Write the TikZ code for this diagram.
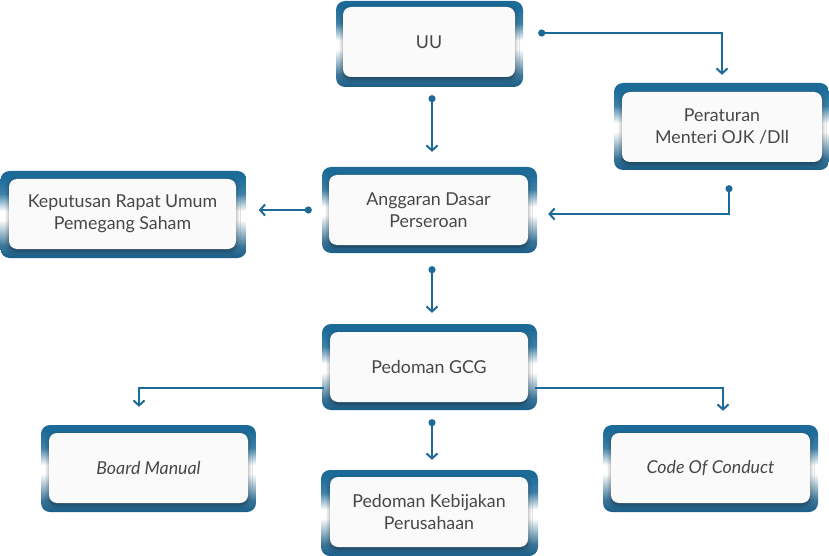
\documentclass[tikz,border=0pt]{standalone}
\usepackage{fontspec}
\setmainfont{Lato}
\usetikzlibrary{arrows.meta,calc,shadows.blur}
\definecolor{fb}{HTML}{1B6A98}
\definecolor{fbd}{HTML}{195E88}
\definecolor{txt}{HTML}{474747}
\definecolor{inn}{HTML}{FAFAFA}
\pgfdeclareverticalshading{framesh}{100bp}{color(0bp)=(fbd); color(25bp)=(fbd); color(32bp)=(fbd!85!white); color(47bp)=(white); color(52bp)=(white); color(62bp)=(fb!85!white); color(72bp)=(fb); color(100bp)=(fb)}
\begin{document}
\begin{tikzpicture}[x=1pt,y=-1pt,
  frame/.style={rounded corners=9pt, shading=framesh, draw=none, inner sep=0pt},
  inner/.style={rounded corners=8pt, fill=inn, draw=none, text=txt, align=center,
     font=\fontsize{17.8}{22}\selectfont, inner sep=0pt,
     blur shadow={shadow xshift=0pt, shadow yshift=-2pt, shadow blur radius=4pt, shadow opacity=45}},
  conn/.style={draw=fb, line width=2pt},
  tip/.style={-{Straight Barb[length=5pt,width=11pt,line width=2pt]}},
  dottip/.style={{Circle[length=7pt]}-{Straight Barb[length=5pt,width=11pt,line width=2pt]}}
]
\useasboundingbox (0,0) rectangle (829,556);
% frames
\node[frame, minimum width=187pt, minimum height=86pt] (uuF) at (429.5,44) {};
\node[frame, minimum width=246pt, minimum height=87pt] (kepF) at (123.5,214.5) {};
\node[frame, minimum width=215pt, minimum height=87pt] (perF) at (721.5,126.5) {};
\node[frame, minimum width=215pt, minimum height=86pt] (angF) at (429.5,210) {};
\node[frame, minimum width=215pt, minimum height=86pt] (gcgF) at (429.5,367) {};
\node[frame, minimum width=215pt, minimum height=87pt] (bmF) at (148.5,468.5) {};
\node[frame, minimum width=215pt, minimum height=87pt] (cocF) at (710.5,468.5) {};
\node[frame, minimum width=217pt, minimum height=86pt] (pkF) at (429.5,513) {};
% inner boxes
\node[inner, minimum width=172pt, minimum height=70pt] (uu) at (429,42) {UU};
\node[inner, minimum width=227pt, minimum height=70pt] (kep) at (122.5,214) {Keputusan Rapat Umum\\Pemegang Saham};
\node[inner, minimum width=200pt, minimum height=70pt] (per) at (722,127) {Peraturan\\Menteri OJK /Dll};
\node[inner, minimum width=199pt, minimum height=70pt] (ang) at (428.5,210) {Anggaran Dasar\\Perseroan};
\node[inner, minimum width=198pt, minimum height=70pt] (gcg) at (429,367) {Pedoman GCG};
\node[inner, minimum width=199pt, minimum height=70pt] (bm) at (148.5,468) {\itshape Board Manual};
\node[inner, minimum width=199pt, minimum height=70pt] (coc) at (710.5,468) {\itshape Code Of Conduct};
\node[inner, minimum width=198pt, minimum height=70pt] (pk) at (429,512) {Pedoman Kebijakan\\Perusahaan};
% connectors
\coordinate (c1) at ($(uuF.east)+(15,-11)$);
\draw[conn,dottip] ($(uuF.south)+(2.5,8)$) -- ($(angF.north)+(2.5,-15)$);
\draw[conn,dottip] (c1) -| ($(perF.north)+(0.5,-8)$);
\draw[conn,dottip] ($(perF.south)+(7.5,15)$) |- ($(angF.east)+(11,4)$);
\draw[conn,dottip] ($(angF.west)+(-10,0)$) -- ($(kepF.east)+(12,-4.5)$);
\draw[conn,dottip] ($(angF.south)+(2.5,13)$) -- ($(gcgF.north)+(2.5,-11)$);
\draw[conn,tip] ($(gcgF.west)+(2,21)$) -| ($(bmF.north)+(-9.5,-18)$);
\draw[conn,tip] ($(gcgF.east)+(-2,21)$) -| ($(cocF.north)+(12.5,-14)$);
\draw[conn,dottip] ($(gcgF.south)+(2.5,9)$) -- ($(pkF.north)+(2.5,-10)$);
\end{tikzpicture}
\end{document}
